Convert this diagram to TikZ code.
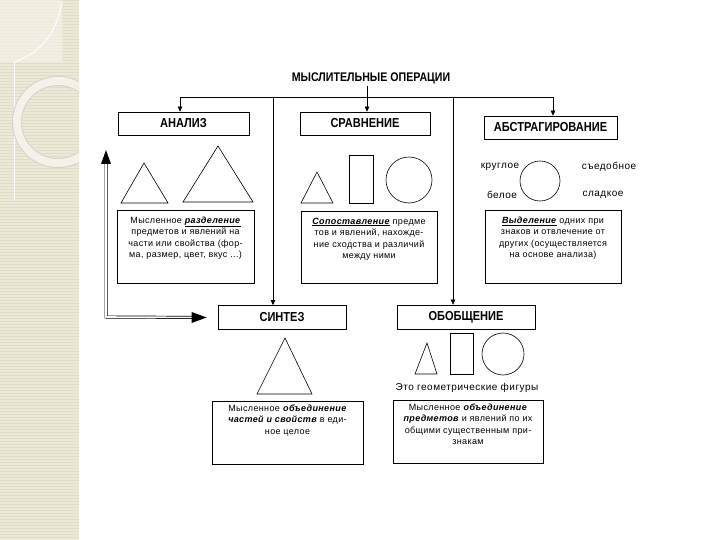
\documentclass[tikz,border=0pt]{standalone}
\usepackage{fontspec}
\setmainfont{Liberation Sans}
\newfontfamily\hdfont[FakeStretch=0.85]{Liberation Sans}
\newfontfamily\smfont[LetterSpace=4]{Liberation Sans}
\newfontfamily\lbfont[LetterSpace=5]{Liberation Sans}
\usetikzlibrary{arrows.meta}
\definecolor{strip}{HTML}{ECE9D8}
\definecolor{stripline}{HTML}{E0DCC6}
\definecolor{ringc}{HTML}{F4F2E8}
\begin{document}
\begin{tikzpicture}[x=1pt,y=-1pt,
  hbox/.style={draw, line width=0.7pt, minimum height=23pt, inner sep=0pt,
    font=\hdfont\bfseries\fontsize{13}{14}\selectfont},
  tbox/.style={draw, line width=0.7pt, inner sep=0pt},
  txt/.style={font=\smfont\fontsize{9}{11.5}\selectfont, align=center, inner sep=0pt},
  lbl/.style={font=\lbfont\fontsize{10}{11}\selectfont, inner sep=0pt},
  shp/.style={draw, line width=0.6pt},
  conn/.style={line width=0.6pt},
  arr/.style={conn, -{Triangle[length=5pt,width=4.5pt]}}]
\useasboundingbox (0,0) rectangle (720,540);
% decorative strip
\fill[strip] (0,0) rectangle (79,540);
\foreach \k in {0,3,...,539} {\draw[stripline, line width=0.8pt] (0,\k) -- (79,\k);}
\fill[ringc, opacity=0.7] (0,0) rectangle (62,62);
\draw[white, line width=1pt] (62,2) .. controls (55,40) and (35,55) .. (14,62);
\draw[white, line width=0.8pt] (14,62) -- (14,200);
\begin{scope}
\clip (0,0) rectangle (79,540);
\draw[black!18, line width=10pt] (58,122) circle (41);
\draw[ringc, line width=8pt] (58,122) circle (41);
\end{scope}

% title and top boxes
\node[font=\hdfont\bfseries\fontsize{12.5}{13}\selectfont, inner sep=0pt] (title) at (371,78) {МЫСЛИТЕЛЬНЫЕ ОПЕРАЦИИ};
\node[hbox, minimum width=131pt] (analiz) at (183.5,123.5) {АНАЛИЗ};
\node[hbox, minimum width=130pt] (sravn) at (365,123.5) {СРАВНЕНИЕ};
\node[hbox, minimum width=133pt] (abstr) at (550.5,127.5) {АБСТРАГИРОВАНИЕ};
\node[hbox, minimum width=128pt, minimum height=24pt] (sintez) at (282,317.5) {СИНТЕЗ};
\node[hbox, minimum width=138pt, minimum height=24pt] (obobsh) at (466,317) {ОБОБЩЕНИЕ};

% connectors
\coordinate (hl) at (180,97);
\coordinate (hr) at (553,97);
\coordinate (tb) at (367,86);
\coordinate (v1) at (273,97);
\coordinate (v2) at (453,97);
\draw[conn] (hl) -- (hr);
\draw[arr] (hl) -- (hl |- analiz.north);
\draw[arr] (tb) -- (tb |- sravn.north);
\draw[arr] (hr) -- (hr |- abstr.north);
\draw[arr] (v1) -- (v1 |- sintez.north);
\draw[arr] (v2) -- (v2 |- obobsh.north);
\coordinate (dtop) at (106,150);
\coordinate (dcorner) at (106,317);
\coordinate (dend) at ([xshift=-11pt]sintez.west);
\draw[line width=0.7pt, double, double distance=1.6pt, shorten <=12pt, shorten >=13pt]
  (dtop) -- (dcorner) -- (dend);
\fill (dtop) -- ++(-5,14) -- ++(10,0) -- cycle;
\fill (dend) -- ++(-15,-5.5) -- ++(0,11) -- cycle;

% analysis shapes
\draw[shp] (144,163) -- (121,203) -- (168,203) -- cycle;
\draw[shp] (218,146) -- (183,202) -- (253,202) -- cycle;
% comparison shapes
\draw[shp] (317,172) -- (301,203) -- (333,203) -- cycle;
\draw[shp] (349,155) rectangle (373,203);
\draw[shp] (409,180) circle (23);
% abstraction
\draw[shp] (540,181) circle (20);
\node[lbl] (kr) at (500,167) {круглое};
\node[lbl] (sy) at (609,167) {съедобное};
\node[lbl] (be) at (502,195) {белое};
\node[lbl] (sl) at (603,195) {сладкое};
% synthesis
\draw[shp] (285,338) -- (257,394) -- (312,394) -- cycle;
% generalisation
\draw[shp] (427,343) -- (415,374) -- (437,374) -- cycle;
\draw[shp] (450,333) rectangle (473,374);
\draw[shp] (503,354) circle (21);
\node[lbl] (geo) at (467,388) {Это геометрические фигуры};

% text boxes
\node[tbox, minimum width=137pt, minimum height=73pt] (b1) at (185.5,246.5) {};
\node[tbox, minimum width=136pt, minimum height=72pt] (b2) at (369,247) {};
\node[tbox, minimum width=136pt, minimum height=73pt] (b3) at (553,246.5) {};
\node[tbox, minimum width=151pt, minimum height=63pt] (b4) at (287.5,432.5) {};
\node[tbox, minimum width=150pt, minimum height=63pt] (b5) at (468,431.5) {};

\node[txt, anchor=north] (x1) at ([yshift=-7pt]b1.north) {Мысленное \underline{\textbf{\textit{разделение}}}\\предметов и явлений на\\части или свойства (фор-\\ма, размер, цвет, вкус ...)};
\node[txt, anchor=north] (x2) at ([yshift=-7pt]b2.north) {\underline{\textbf{\textit{Сопоставление}}} предме\\тов и явлений, нахожде-\\ние сходства и различий\\между ними};
\node[txt, anchor=north] (x3) at ([yshift=-7pt]b3.north) {\underline{\textbf{\textit{Выделение}}} одних при\\знаков и отвлечение от\\других (осуществляется\\на основе анализа)};
\node[txt, anchor=north] (x4) at ([yshift=-4pt]b4.north) {Мысленное \textbf{\textit{объединение}}\\\textbf{\textit{частей и свойств}} в еди-\\ное целое};
\node[txt, anchor=north] (x5) at ([yshift=-4pt]b5.north) {Мысленное \textbf{\textit{объединение}}\\\textbf{\textit{предметов}} и явлений по их\\общими существенным при-\\знакам};
\end{tikzpicture}
\end{document}
